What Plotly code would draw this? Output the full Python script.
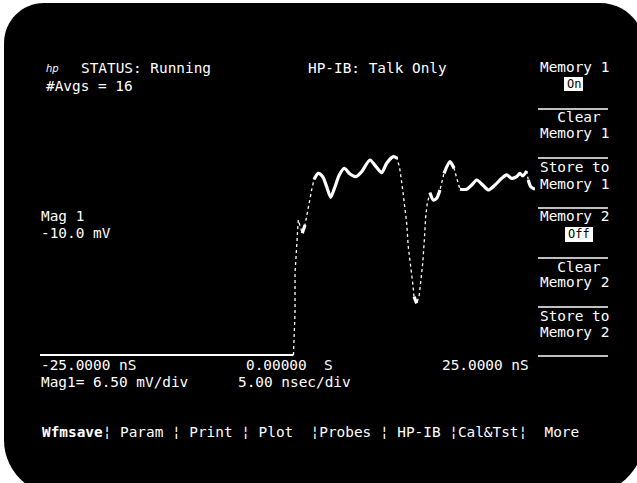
import plotly.graph_objects as go

W, H = 637, 483

# ---- waveform data (time in ns, amplitude in mV) ----
time_ns = [-25.0, 0.6, 0.76, 0.76, 0.93, 1.09, 1.33, 1.49, 1.77, 2.10, 2.44, 2.68,
           3.11, 3.56, 3.96, 4.36, 4.80, 5.23, 5.74, 6.31, 6.92, 7.49, 8.33, 8.94,
           9.52, 10.02, 10.69, 11.09, 11.36, 11.64, 11.87, 12.04, 12.20, 12.47,
           12.65, 12.78, 13.05, 13.31, 13.45, 13.66, 13.82, 13.96, 14.12, 14.39,
           14.73, 15.07, 15.40, 15.81, 16.41, 16.82, 17.15, 17.42, 18.10, 18.61,
           19.11, 19.72, 20.28, 20.96, 21.64, 22.14, 22.65, 23.15, 23.48, 23.76,
           24.16, 24.32, 24.57, 25.0]
volt_mv = [-36.0, -36.0, -27.73, -19.79, -14.17, -9.21, -10.79, -11.84, -10.2, -6.57,
           -3.25, -1.13, 0.06, -0.61, -2.60, -4.70, -2.60, -0.27, 1.06, -0.08,
           -0.61, 0.38, 2.70, 1.37, 0.18, 2.05, 3.36, 3.04, 0.72, -3.25, -6.57,
           -9.86, -14.51, -18.48, -21.77, -24.43, -25.74, -24.09, -21.77, -17.80,
           -13.18, -8.55, -5.89, -3.79, -5.24, -4.90, -3.25, 0.06, 2.37, 1.06,
           -1.27, -3.11, -3.11, -2.26, -1.27, -2.26, -3.25, -2.26, -0.93, -0.27,
           -0.93, -0.61, 0.06, -0.47, 0.52, -1.27, -2.60, -3.11]

x_range = [-25, 25]
y_range = [-36.5, 16]
clip_level = -36.0   # trace pinned at the bottom of the screen

# screen geometry (pixels)
X0, X1 = 40, 535
Y_TOP, Y_BOT = 93, 357.5
px_per_ns = (X1 - X0) / (x_range[1] - x_range[0])
px_per_mv = (Y_BOT - Y_TOP) / (y_range[1] - y_range[0])


def px(x):
    return x / W


def py(y):
    return 1 - y / H


# split the trace: steep parts drawn thin/dotted, slow parts thick
thick_x, thick_y = [], []
base_x, base_y = [], []
for i in range(len(time_ns) - 1):
    dx = (time_ns[i + 1] - time_ns[i]) * px_per_ns
    dy = (volt_mv[i + 1] - volt_mv[i]) * px_per_mv
    if volt_mv[i] <= clip_level and volt_mv[i + 1] <= clip_level:
        base_x += [time_ns[i], time_ns[i + 1], None]
        base_y += [volt_mv[i], volt_mv[i + 1], None]
        continue
    steep = abs(dy) > 3.0 * max(dx, 1e-6)
    if not steep:
        if not (thick_x and thick_x[-1] == time_ns[i] and thick_y[-1] == volt_mv[i]):
            if thick_x:
                thick_x.append(None)
                thick_y.append(None)
            thick_x.append(time_ns[i])
            thick_y.append(volt_mv[i])
        thick_x.append(time_ns[i + 1])
        thick_y.append(volt_mv[i + 1])

fig = go.Figure()
fig.add_trace(go.Scatter(x=time_ns[1:], y=volt_mv[1:], mode="lines",
                         line=dict(color="white", width=1.3, dash="dot"),
                         hoverinfo="skip", showlegend=False))
fig.add_trace(go.Scatter(x=base_x, y=base_y, mode="lines",
                         line=dict(color="white", width=2),
                         connectgaps=False, hoverinfo="skip", showlegend=False))
fig.add_trace(go.Scatter(x=thick_x, y=thick_y, mode="lines",
                         line=dict(color="white", width=3.2, shape="spline", smoothing=0.7),
                         connectgaps=False, hoverinfo="skip", showlegend=False))

# ---- rounded black screen ----
L, T, R, B = 4, 3, 645, 495
rtl, rtr, rbr, rbl = 40, 45, 60, 55
k = 0.5523


def P(x, y):
    return f"{px(x):.5f},{py(y):.5f}"


path = (f"M {P(L, T + rtl)} "
        f"C {P(L, T + rtl * (1 - k))} {P(L + rtl * (1 - k), T)} {P(L + rtl, T)} "
        f"L {P(R - rtr, T)} "
        f"C {P(R - rtr * (1 - k), T)} {P(R, T + rtr * (1 - k))} {P(R, T + rtr)} "
        f"L {P(R, B - rbr)} "
        f"C {P(R, B - rbr * (1 - k))} {P(R - rbr * (1 - k), B)} {P(R - rbr, B)} "
        f"L {P(L + rbl, B)} "
        f"C {P(L + rbl * (1 - k), B)} {P(L, B - rbl * (1 - k))} {P(L, B - rbl)} Z")

shapes = [dict(type="path", path=path, xref="paper", yref="paper",
               fillcolor="black", line=dict(width=0), layer="below")]

# right-hand menu separators
for sy in [109, 158, 208, 258, 307, 356]:
    shapes.append(dict(type="line", xref="paper", yref="paper",
                       x0=px(538), x1=px(608), y0=py(sy), y1=py(sy),
                       line=dict(color="white", width=1.5)))
# highlighted boxes
shapes.append(dict(type="rect", xref="paper", yref="paper",
                   x0=px(564), x1=px(583), y0=py(91), y1=py(77),
                   fillcolor="white", line=dict(width=0)))
shapes.append(dict(type="rect", xref="paper", yref="paper",
                   x0=px(565), x1=px(593), y0=py(242), y1=py(227),
                   fillcolor="white", line=dict(width=0)))

FONT = "DejaVu Sans Mono"
FS = 14.4

texts = [
    ("STATUS: Running", 79, 68),
    ("#Avgs = 16", 44, 86),
    ("HP-IB: Talk Only", 306, 68),
    ("Memory 1", 538, 67),
    ("  Clear", 538, 117),
    ("Memory 1", 538, 133),
    ("Store to", 538, 167),
    ("Memory 1", 538, 184),
    ("Memory 2", 538, 216),
    ("  Clear", 538, 267),
    ("Memory 2", 538, 282),
    ("Store to", 538, 316),
    ("Memory 2", 538, 332),
    ("Mag 1", 39, 216),
    ("-10.0 mV", 39, 233),
    ("-25.0000 nS", 39, 365),
    ("0.00000  S", 244, 365),
    ("25.0000 nS", 440, 365),
    ("Mag1= 6.50 mV/div", 39, 382),
    ("5.00 nsec/div", 236, 382),
    ("<b>Wfmsave</b>¦ Param ¦ Print ¦ Plot  ¦Probes ¦ HP-IB ¦Cal&Tst¦  More", 40, 432),
]

annotations = []
for txt, x, y in texts:
    annotations.append(dict(text=txt, x=px(x), y=py(y), xref="paper", yref="paper",
                            xanchor="left", yanchor="middle", showarrow=False,
                            font=dict(family=FONT, size=FS, color="white")))
annotations.append(dict(text="<i>hp</i>", x=px(44), y=py(68), xref="paper", yref="paper",
                        xanchor="left", yanchor="middle", showarrow=False,
                        font=dict(family="DejaVu Sans", size=10, color="white")))
annotations.append(dict(text="On", x=px(573.5), y=py(84), xref="paper", yref="paper",
                        xanchor="center", yanchor="middle", showarrow=False,
                        font=dict(family=FONT, size=12, color="black")))
annotations.append(dict(text="Off", x=px(579), y=py(234.5), xref="paper", yref="paper",
                        xanchor="center", yanchor="middle", showarrow=False,
                        font=dict(family=FONT, size=12, color="black")))

fig.update_layout(
    width=W, height=H,
    margin=dict(l=0, r=0, t=0, b=0),
    paper_bgcolor="white",
    plot_bgcolor="rgba(0,0,0,0)",
    xaxis=dict(range=x_range, domain=[px(X0), px(X1)], visible=False, fixedrange=True),
    yaxis=dict(range=y_range, domain=[py(Y_BOT), py(Y_TOP)], visible=False, fixedrange=True),
    shapes=shapes,
    annotations=annotations,
    showlegend=False,
)

fig.write_html("out.html", config={"displayModeBar": False},
               post_script="document.body.style.margin='0';")
